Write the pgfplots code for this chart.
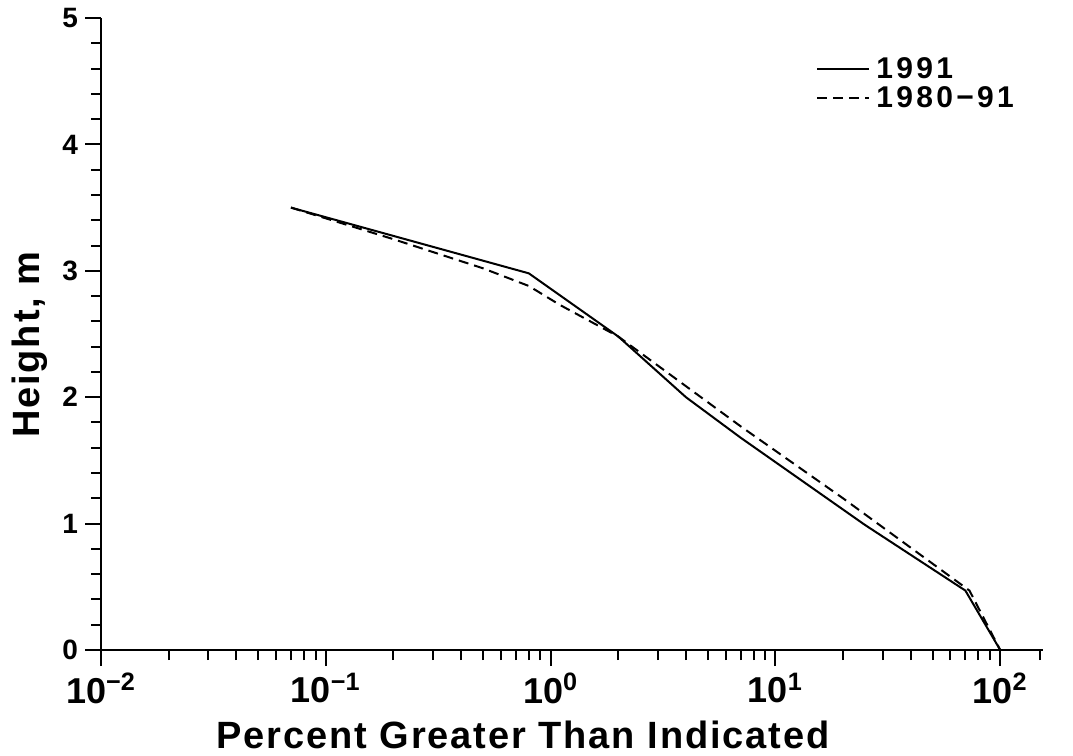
\documentclass[border=0pt]{standalone}
\usepackage{fontspec}
\setmainfont{Liberation Sans}
\usepackage{pgfplots}
\pgfplotsset{compat=1.18}
\begin{document}
\begin{tikzpicture}
\begin{axis}[
  scale only axis, width=471pt, height=316pt,
  xmode=log, xmin=0.01, xmax=155, ymin=0, ymax=5,
  axis lines*=left, axis line style={line width=1.2pt},
  tick align=outside, major tick length=8pt, minor tick length=5pt,
  tick style={black, line width=1pt},
  xtick={0.01,0.1,1,10,100},
  xticklabels={10\textsuperscript{−2},10\textsuperscript{−1},10\textsuperscript{0},10\textsuperscript{1},10\textsuperscript{2}},
  minor xtick={0.02,0.03,0.04,0.05,0.06,0.07,0.08,0.09,0.2,0.3,0.4,0.5,0.6,0.7,0.8,0.9,2,3,4,5,6,7,8,9,20,30,40,50,60,70,80,90,150},
  ytick={0,1,2,3,4,5}, yticklabels={0,1,2,3,4,5}, minor y tick num=4,
  xticklabel style={font=\fontsize{18}{18}\selectfont\bfseries},
  yticklabel style={font=\fontsize{14}{14}\selectfont\bfseries},
  xlabel={Percent Greater Than Indicated}, ylabel={Height, m},
  label style={font=\fontsize{19}{19}\selectfont\bfseries\addfontfeature{LetterSpace=5}},
  xlabel style={at={(axis description cs:0.448,0)}, anchor=center, yshift=-42.5pt},
  ylabel style={at={(axis description cs:-0.0754,0.483)}, anchor=center},
  legend cell align=left,
  legend style={draw=none, fill=none, at={(rel axis cs:0.759,0.94)}, anchor=north west,
    font=\fontsize{15}{15}\selectfont\bfseries\addfontfeature{LetterSpace=11},
    row sep=1.5pt, inner sep=0pt, nodes={inner ysep=0.5pt, inner xsep=3pt}},
  legend image code/.code={\draw[#1] (0pt,0pt) -- (26pt,0pt);},
]
\addplot[black, line width=1pt] coordinates {
  (0.07,3.5) (0.8,2.98) (2.0,2.48) (4.0,2.0) (7.0,1.68) (25,0.99) (70,0.47) (100,0)
};
\addlegendentry{1991}
\addplot[black, line width=1pt, dash pattern=on 5pt off 3pt] coordinates {
  (0.07,3.5) (0.2,3.25) (0.5,3.02) (0.8,2.88) (1.1,2.73) (2.0,2.48) (7.0,1.77) (20,1.2) (73,0.47) (100,0)
};
\addlegendentry{1980−91}
\coordinate (O) at (rel axis cs:0,0);
\end{axis}
\path (O) ++(-50.5pt,-53pt) rectangle ++(536.5pt,378pt);
\end{tikzpicture}
\end{document}
